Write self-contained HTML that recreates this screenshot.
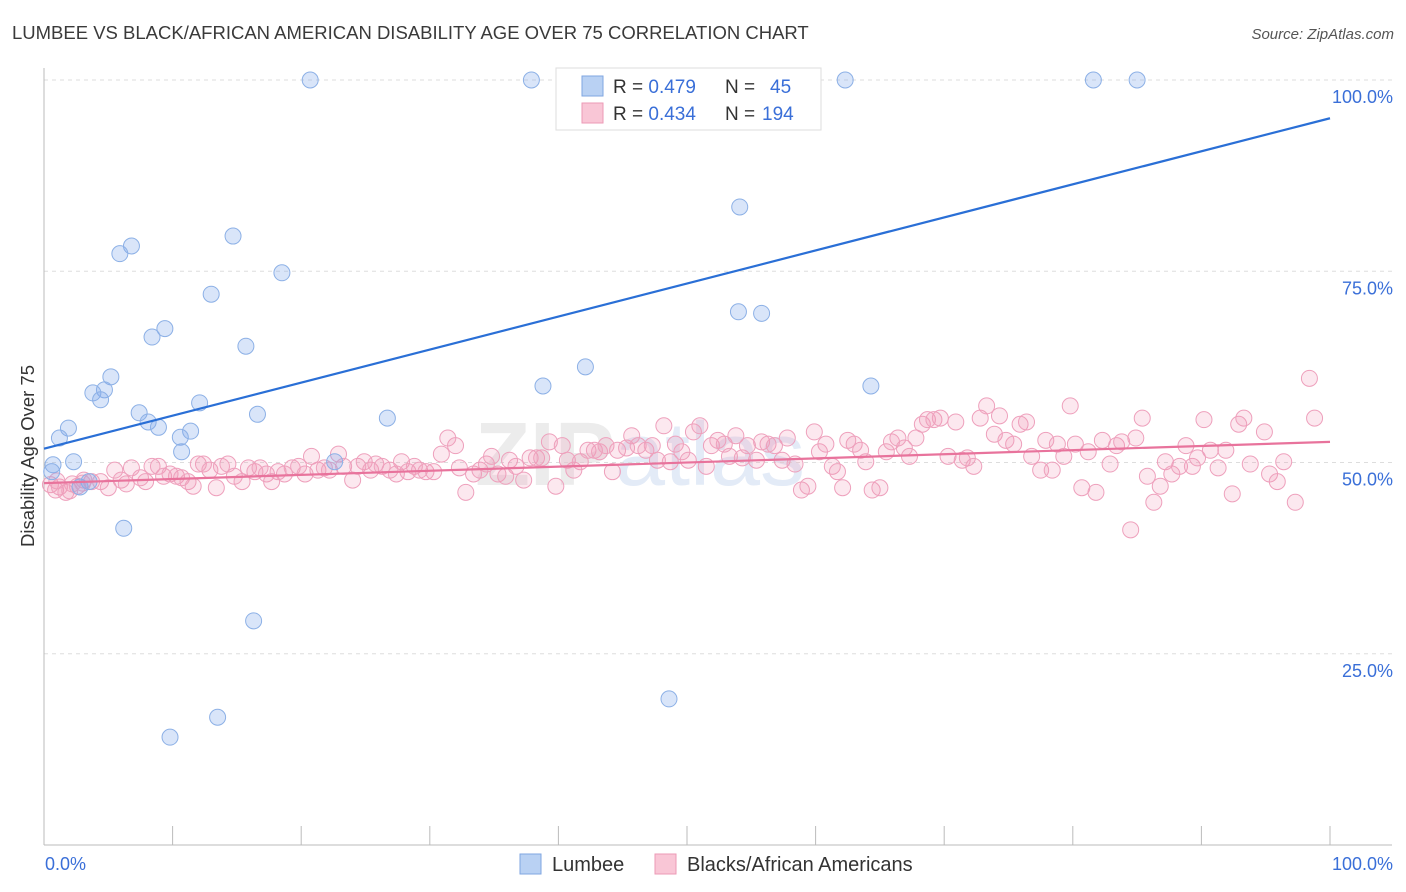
<!DOCTYPE html>
<html><head><meta charset="utf-8"><style>
body{margin:0;background:#fff;font-family:"Liberation Sans",sans-serif}
svg{display:block}
</style></head><body>
<svg id="chart" width="1406" height="892">
<text x="12" y="39" font-size="18.5" fill="#3a3a3a">LUMBEE VS BLACK/AFRICAN AMERICAN DISABILITY AGE OVER 75 CORRELATION CHART</text>
<text x="1394" y="39" font-size="15" fill="#555" font-style="italic" text-anchor="end">Source: ZipAtlas.com</text>
<text x="640" y="485" font-size="90" fill="#ececec" text-anchor="middle" font-weight="bold">ZIP<tspan fill="#e3ebf7" font-weight="normal">atlas</tspan></text>
<text transform="translate(34,456) rotate(-90)" font-size="18.5" fill="#333" text-anchor="middle">Disability Age Over 75</text>
<g id="grid"></g><g id="marks"></g>
<g>
<rect x="556" y="68" width="265" height="62" fill="#fff" stroke="#ddd"/>
<rect x="582" y="76" width="21" height="20" fill="#b9d1f3" stroke="#7fa6e0"/>
<rect x="582" y="103" width="21" height="20" fill="#f9c6d6" stroke="#ec9ab6"/>
<text x="613" y="93" font-size="19" fill="#333">R = <tspan fill="#3a6fd8">0.479</tspan><tspan x="725">N = </tspan><tspan x="770" fill="#3a6fd8">45</tspan></text>
<text x="613" y="120" font-size="19" fill="#333">R = <tspan fill="#3a6fd8">0.434</tspan><tspan x="725">N = </tspan><tspan x="762" fill="#3a6fd8">194</tspan></text>
</g>
<g>
<rect x="520" y="854" width="21" height="20" fill="#b9d1f3" stroke="#7fa6e0"/>
<text x="552" y="871" font-size="20" fill="#333">Lumbee</text>
<rect x="655" y="854" width="21" height="20" fill="#f9c6d6" stroke="#ec9ab6"/>
<text x="687" y="871" font-size="20" fill="#333">Blacks/African Americans</text>
</g>
</svg>
<script>
const blueX=[20.7,37.9,62.3,81.6,85.0,54.1,14.7,6.8,5.9,18.5,13.0,54.0,55.8,9.4,8.4,15.7,42.1,5.2,38.8,64.3,4.7,3.8,4.4,12.1,7.4,16.6,26.7,8.1,8.9,1.9,11.4,10.6,1.2,10.7,2.3,22.6,0.7,0.6,3.5,2.8,6.2,16.3,48.6,13.5,9.8];
const blueY=[100,100,100,100,100,83.4,79.6,78.3,77.3,74.8,72.0,69.7,69.5,67.5,66.4,65.2,62.5,61.2,60.0,60.0,59.5,59.1,58.2,57.8,56.5,56.3,55.8,55.3,54.6,54.5,54.1,53.3,53.2,51.4,50.1,50.1,49.7,48.8,47.5,46.8,41.4,29.3,19.1,16.7,14.1];
const pinkX=[0.5,0.9,1.2,1.7,2.2,2.6,3.1,3.7,4.4,5.0,5.5,6.0,6.4,6.8,7.5,7.9,8.4,8.9,9.3,9.8,10.3,10.7,11.2,11.6,12.0,12.4,12.9,13.4,13.8,14.3,14.8,15.4,15.9,16.4,16.8,17.3,17.7,18.2,18.7,19.3,19.8,20.3,20.8,21.3,21.8,22.2,22.9,23.3,24.0,24.4,24.9,25.4,25.8,26.3,26.9,27.4,27.8,28.3,28.8,29.2,29.7,30.3,30.9,31.4,32.0,32.3,32.8,33.4,33.9,34.4,34.8,35.3,35.9,36.2,36.7,37.3,37.8,38.3,38.7,39.3,39.8,40.3,40.7,41.2,41.7,42.3,42.8,43.2,43.7,44.2,44.6,45.3,45.7,46.2,46.8,47.3,47.7,48.2,48.7,49.1,49.6,50.1,50.5,51.0,51.5,51.9,52.4,52.9,53.3,53.8,54.3,54.7,55.4,55.8,56.3,56.8,57.4,57.8,58.4,58.9,59.4,59.9,60.3,60.8,61.3,61.7,62.1,62.5,63.0,63.5,63.9,64.4,65.0,65.5,65.9,66.4,66.9,67.3,67.8,68.3,68.7,69.2,69.7,70.3,70.9,71.4,71.8,72.3,72.8,73.3,73.9,74.3,74.8,75.4,75.9,76.4,76.8,77.5,77.9,78.4,78.8,79.3,79.8,80.2,80.7,81.2,81.8,82.3,82.9,83.4,83.8,84.5,84.9,85.4,85.8,86.3,86.8,87.2,87.7,88.3,88.8,89.3,89.7,90.2,90.7,91.3,91.9,92.4,92.9,93.3,93.8,94.9,95.3,95.9,96.4,97.3,98.4,98.8,1.0,2.0,3.0];
const pinkY=[47.1,46.4,46.8,46.1,47.2,46.9,47.7,47.5,47.5,46.7,49.0,47.7,47.2,49.3,48.0,47.5,49.5,49.5,48.2,48.5,48.2,48.0,47.5,46.9,49.8,49.8,49.0,46.7,49.5,49.8,48.2,47.5,49.3,48.8,49.3,48.5,47.5,48.8,48.5,49.3,49.5,48.5,50.8,49.0,49.3,49.0,51.1,49.5,47.7,49.5,50.1,49.0,49.8,49.5,49.0,48.5,50.1,48.8,49.5,49.0,48.8,48.8,51.1,53.2,52.2,49.3,46.1,48.5,49.0,49.8,50.8,48.5,48.2,50.3,49.5,47.7,50.6,50.6,50.6,52.7,46.9,52.2,50.3,49.0,50.1,51.6,51.6,51.4,52.2,48.8,51.6,51.9,53.5,52.2,51.6,52.2,50.3,54.8,50.1,52.4,51.4,50.3,54.0,54.8,49.5,52.2,52.9,52.4,50.8,53.5,50.6,52.2,50.3,52.7,52.4,52.2,50.3,53.2,49.8,46.4,46.9,54.0,51.4,52.4,49.5,48.8,46.7,52.9,52.4,51.6,50.1,46.4,46.7,51.4,52.7,53.2,51.9,50.8,53.2,55.0,55.6,55.6,55.8,50.8,55.3,50.3,50.6,49.5,55.8,57.4,53.7,56.1,52.9,52.4,55.0,55.3,50.8,49.0,52.9,49.0,52.4,50.8,57.4,52.4,46.7,51.4,46.1,52.9,49.8,52.2,52.7,41.2,53.2,55.8,48.2,44.8,46.9,50.1,48.5,49.5,52.2,49.5,50.6,55.6,51.6,49.3,51.6,45.9,55.0,55.8,49.8,54.0,48.5,47.5,50.1,44.8,61.0,55.8,47.6,46.3,47.3];
const yTicks=[25,50,75,100];
const yTickLabels=["25.0%","50.0%","75.0%","100.0%"];
const xTicks=[0,10,20,30,40,50,60,70,80,90,100];
const blueTrend=[51.8,95.0];
const pinkTrend=[47.3,52.7];
const X0=44,X1=1330,Y0=845,PPY=7.65;
const sx=v=>X0+(X1-X0)*v/100, sy=v=>Y0-PPY*v;
const NS="http://www.w3.org/2000/svg";
const grid=document.getElementById('grid'), marks=document.getElementById('marks');
function mk(tag,attrs,parent){const e=document.createElementNS(NS,tag);for(const k in attrs)e.setAttribute(k,attrs[k]);parent.appendChild(e);return e;}
yTicks.forEach((t,i)=>{
  const l=mk('line',{x1:X0,x2:1392,y1:sy(t),y2:sy(t),stroke:'#ddd','stroke-dasharray':'4,4'},grid);
  
  
  const tx=mk('text',{x:1393,y:sy(t)+23,'font-size':18,fill:'#3a6fd8','text-anchor':'end'},grid);
  tx.textContent=yTickLabels[i];
  
  
});
const ya=mk('line',{x1:X0,x2:X0,y1:68,y2:Y0,stroke:'#bbb'},grid);


const xa=mk('line',{x1:X0,x2:1392,y1:Y0,y2:Y0,stroke:'#bbb'},grid);


xTicks.forEach(t=>{
  const l=mk('line',{x1:sx(t),x2:sx(t),y1:826,y2:Y0,stroke:'#bbb'},grid);
  
  
});
[[0,'0.0%','start',45],[100,'100.0%','end',1393]].forEach(a=>{
  const tx=mk('text',{x:a[3],y:870,'font-size':18,fill:'#3a6fd8','text-anchor':a[2]},grid);
  tx.textContent=a[1];
  
  
});
pinkX.forEach((x,i)=>{
  const c=mk('circle',{cx:sx(x),cy:sy(pinkY[i]),r:8,fill:'rgba(242,150,182,0.22)',stroke:'#eea0bc','stroke-width':1},marks);
  
  
});
blueX.forEach((x,i)=>{
  const c=mk('circle',{cx:sx(x),cy:sy(blueY[i]),r:8,fill:'rgba(130,170,235,0.3)',stroke:'#8cb0e6','stroke-width':1},marks);
  
  
});
const bt=mk('line',{x1:sx(0),y1:sy(blueTrend[0]),x2:sx(100),y2:sy(blueTrend[1]),stroke:'#2a6fd6','stroke-width':2.2},marks);


const pt=mk('line',{x1:sx(0),y1:sy(pinkTrend[0]),x2:sx(100),y2:sy(pinkTrend[1]),stroke:'#e8739c','stroke-width':2.2},marks);


</script>
</body></html>
